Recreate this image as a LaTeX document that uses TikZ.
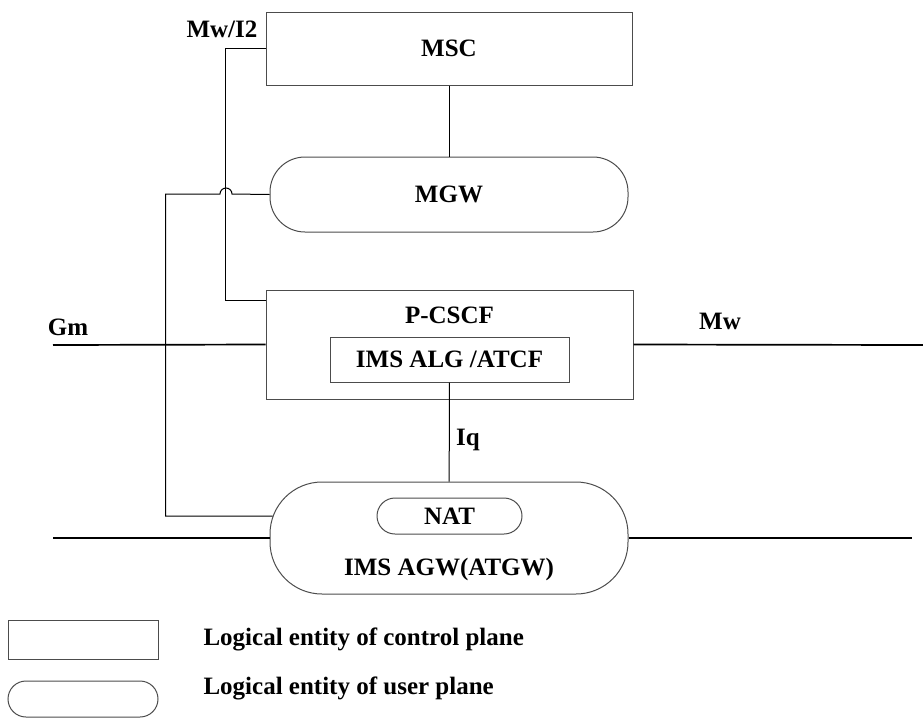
\documentclass[tikz,border=0pt]{standalone}
\usepackage{fontspec}
\setmainfont{Liberation Serif}
\usetikzlibrary{positioning,calc}

\begin{document}
\begin{tikzpicture}[
    x=1pt, y=-1pt,
    font=\fontsize{25}{28}\selectfont\bfseries,
    ctrl/.style={rectangle, draw=black!70, line width=1pt, inner sep=0pt},
    user/.style={rectangle, rounded corners=#1, draw=black!70, line width=1pt, inner sep=0pt},
    link/.style={draw, line width=1pt},
    iface/.style={draw, line width=1.7pt}
]
\useasboundingbox (0,0) rectangle (923,718);

% network entities
\node[ctrl, minimum width=366pt, minimum height=73pt] (msc) at (449,48.5) {MSC};
\node[user=35pt, minimum width=358pt, minimum height=75pt] (mgw) at (449,194.5) {MGW};
\node[ctrl, minimum width=367pt, minimum height=109pt] (pcscf) at (449.5,344.5) {};
\node[anchor=base] (pcscflbl) at ($(pcscf.north)+(0,34)$) {P-CSCF};
\node[ctrl, minimum width=239pt, minimum height=45pt] (alg) at (449.5,359.5) {IMS ALG /ATCF};
\node[user=52pt, minimum width=358pt, minimum height=112pt] (agw) at (449,538) {};
\node[user=18pt, minimum width=145pt, minimum height=36pt] (nat) at (449.5,516) {NAT};
\node[anchor=base] (agwlbl) at ($(agw.center)+(0,37)$) {IMS AGW(ATGW)};

% free ends
\coordinate (gmend) at (53,345);
\coordinate (mwend) at (923,345);
\coordinate (ulend) at (53,538);
\coordinate (urend) at (912,538);

% connectors
\draw[link] (msc) -- (mgw);
\draw[link] (alg) -- (agw);
\draw[link] (msc.west) -- ++(-40,0) |- ([yshift=-11pt]pcscf.north west);
\draw[link] (mgw.west) -- (232,194) arc[start angle=0, end angle=180, radius=6pt]
    -- (165.5,194) |- ([xshift=3pt,yshift=22pt]agw.west);
\draw[iface] (gmend) -- (pcscf.west);
\draw[iface] (pcscf.east) -- (mwend);
\draw[iface] (ulend) -- (agw.west);
\draw[iface] (agw.east) -- (urend);

% interface labels
\node[anchor=base] (mwi2) at (222,37) {Mw/I2};
\node[anchor=base] (gm) at (68,335) {Gm};
\node[anchor=base] (mw) at (720,329) {Mw};
\node[anchor=base] (iq) at (468,445) {Iq};

% legend
\node[ctrl, minimum width=150pt, minimum height=39pt] (lgctrl) at (83,639.5) {};
\node[user=18pt, minimum width=150pt, minimum height=36pt] (lguser) at (83,699) {};
\node[anchor=base west] (lgctrltxt) at (200,645) {Logical entity of control plane};
\node[anchor=base west] (lgusertxt) at (200,694) {Logical entity of user plane};
\end{tikzpicture}
\end{document}
